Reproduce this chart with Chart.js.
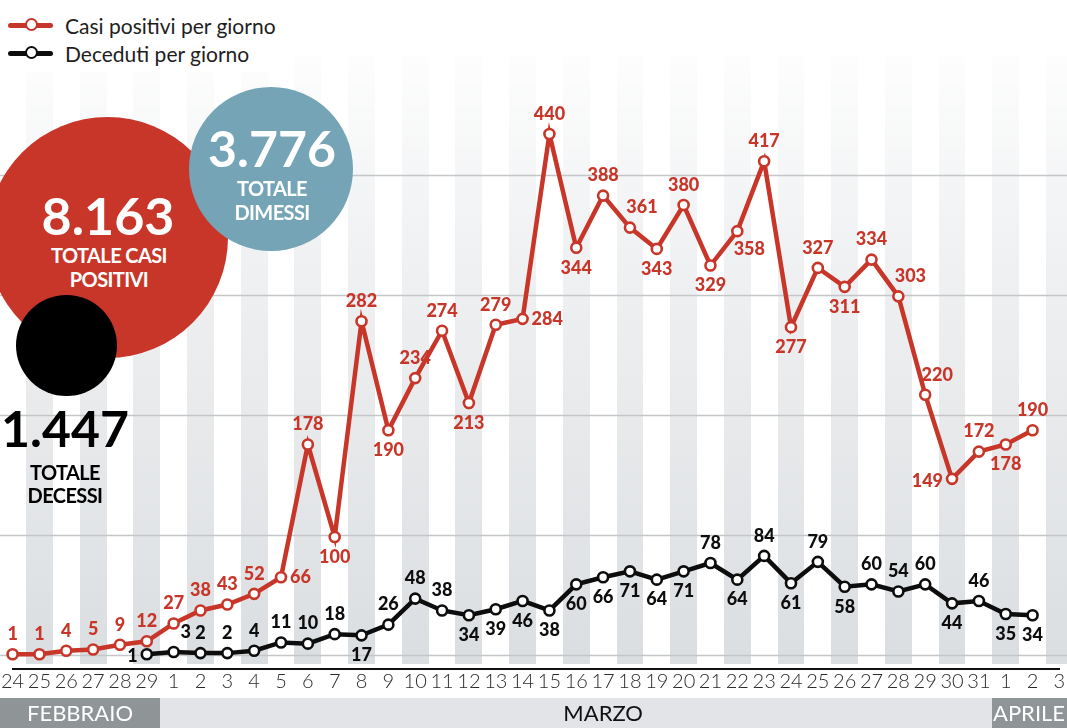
<!DOCTYPE html>
<html lang="it">
<head>
<meta charset="utf-8">
<script src="https://cdn.jsdelivr.net/npm/chart.js@4.4.1/dist/chart.umd.min.js"></script>
<style>
    html, body { margin: 0; padding: 0; background: #fff; }
    #contenitore { position: relative; width: 1067px; height: 728px; overflow: hidden; font-family: 'Lato', sans-serif; }
    #grafico { position: absolute; left: 0; top: 0; }

    .legenda { position: absolute; left: 0; top: 0; width: 283px; height: 72px; background: #fff; }
    .voce { position: absolute; left: 8px; height: 24px; display: flex; align-items: center; font-size: 21px; color: #1e1e1e; white-space: nowrap; }
    .icona { position: relative; width: 45px; height: 5px; border-radius: 3px; margin-right: 12px; }
    .icona::after { content: ''; position: absolute; left: 17px; top: -5px; width: 9px; height: 9px; border-radius: 50%; background: #fff; border: 2.5px solid; border-color: inherit; }
    .rossa { background: #c8362a; border-color: #c8362a; }
    .nera  { background: #0d0d0d; border-color: #0d0d0d; }

    .bolla { position: absolute; border-radius: 50%; }
    .num, .lab { position: absolute; transform: translateX(-50%); white-space: nowrap; line-height: 1; font-weight: 700; color: #fff; }
    .lab { font-size: 20px; letter-spacing: -0.6px; }
</style>
</head>
<body>
<div id="contenitore">
    <canvas id="grafico" width="1067" height="728"></canvas>

    <div class="legenda">
        <div class="voce" style="top:13px"><span class="icona rossa"></span>Casi positivi per giorno</div>
        <div class="voce" style="top:41px"><span class="icona nera"></span>Deceduti per giorno</div>
    </div>

    <div class="bolla" style="left:-13px; top:117px; width:241px; height:241px; background:#c8362a"></div>
    <div class="bolla" style="left:189px; top:87px; width:164px; height:164px; background:#74a4b6"></div>
    <div class="bolla" style="left:16px; top:295px; width:101px; height:101px; background:#000"></div>

    <div class="num" style="left:108px; top:189px; font-size:52px">8.163</div>
    <div class="lab" style="left:109px; top:245px">TOTALE CASI</div>
    <div class="lab" style="left:109px; top:269px">POSITIVI</div>

    <div class="num" style="left:272px; top:123px; font-size:50px">3.776</div>
    <div class="lab" style="left:272px; top:178px">TOTALE</div>
    <div class="lab" style="left:272px; top:202px">DIMESSI</div>

    <div class="num" style="left:65px; top:403px; font-size:50px; color:#000">1.447</div>
    <div class="lab" style="left:65px; top:462px; color:#000">TOTALE</div>
    <div class="lab" style="left:65px; top:485px; color:#000">DECESSI</div>
</div>

<script>
// giorni dal 24 febbraio al 3 aprile
const giorni = ['24', '25', '26', '27', '28', '29',
    '1', '2', '3', '4', '5', '6', '7', '8', '9', '10', '11', '12', '13', '14', '15', '16',
    '17', '18', '19', '20', '21', '22', '23', '24', '25', '26', '27', '28', '29', '30', '31',
    '1', '2', '3'];

const casiPositivi = [1, 1, 4, 5, 9, 12,
    27, 38, 43, 52, 66, 178, 100, 282, 190, 234, 274, 213, 279, 284, 440, 344,
    388, 361, 343, 380, 329, 358, 417, 277, 327, 311, 334, 303, 220, 149, 172,
    178, 190, null];

const deceduti = [null, null, null, null, null, 1,
    3, 2, 2, 4, 11, 10, 18, 17, 26, 48, 38, 34, 39, 46, 38, 60,
    66, 71, 64, 71, 78, 64, 84, 61, 79, 58, 60, 54, 60, 44, 46,
    35, 34, null];

const lineeGriglia = [0, 101.4, 202.8, 304.2, 405.6];

const mesi = ['FEBBRAIO', 'MARZO', 'APRILE'];

// dove va l'etichetta di ogni punto: t sopra, b sotto, r destra, l sinistra
const posRossi = ['t', 't', 't', 't', 't', 't', 't', 't', 't', 't', 'r', 't', 'b', 't', 'b', 't', 't', 'b', 't', 'r',
    't', 'b', 't', 'tr', 'b', 't', 'b', 'br', 't', 'b', 't', 'b', 't', 'tr', 'tr', 'l', 't', 'b', 't', null];
const posNeri = [null, null, null, null, null, 'l', 'tr', 't', 't', 't', 't', 't', 't', 'b', 't', 't', 't', 'b', 'b', 'b',
    'b', 'b', 'b', 'b', 'b', 'b', 't', 'b', 't', 'b', 't', 'b', 't', 't', 't', 'b', 't', 'b', 'b', null];

const ROSSO = '#c8362a';
const NERO  = '#0d0d0d';

const sfondo = {
    id: 'sfondo',
    beforeDraw(chart) {
        const { ctx, chartArea, scales: { x, y } } = chart;
        const passo = x.getPixelForValue(1) - x.getPixelForValue(0);
        const alto  = chartArea.top;
        const basso = chartArea.bottom - 5;

        ctx.save();
        const grad = ctx.createLinearGradient(0, alto, 0, basso);
        grad.addColorStop(0, 'rgba(219,222,225,0.05)');
        grad.addColorStop(0.3, 'rgba(219,222,225,0.4)');
        grad.addColorStop(1, 'rgba(219,222,225,1)');
        ctx.fillStyle = grad;
        giorni.forEach((g, i) => {
            if (i % 2 === 0) return;
            const sx = Math.round(x.getPixelForValue(i) - passo / 2);
            const dx = Math.round(x.getPixelForValue(i) + passo / 2);
            ctx.fillRect(sx, alto, dx - sx, basso - alto);
        });

        ctx.strokeStyle = '#c4c6c8';
        ctx.lineWidth = 1.3;
        lineeGriglia.forEach(v => {
            const py = Math.round(y.getPixelForValue(v)) + 0.5;
            ctx.beginPath();
            ctx.moveTo(0, py);
            ctx.lineTo(chart.width, py);
            ctx.stroke();
        });

        // fascia dei mesi
        const fineFeb = Math.round((x.getPixelForValue(5) + x.getPixelForValue(6)) / 2);
        const inizioApr = Math.round((x.getPixelForValue(36) + x.getPixelForValue(37)) / 2);
        const yBanda = 698;
        ctx.fillStyle = '#8f9497';
        ctx.fillRect(0, yBanda, fineFeb, chart.height - yBanda);
        ctx.fillRect(inizioApr, yBanda, chart.width - inizioApr, chart.height - yBanda);
        ctx.fillStyle = '#e2e4e7';
        ctx.fillRect(fineFeb, yBanda, inizioApr - fineFeb, chart.height - yBanda);

        ctx.font = '400 22px Lato';
        ctx.textBaseline = 'middle';
        ctx.textAlign = 'center';
        ctx.fillStyle = '#fff';
        ctx.fillText(mesi[0], fineFeb / 2, 714);
        ctx.fillStyle = '#111';
        ctx.fillText(mesi[1], x.getPixelForValue(22), 714);
        ctx.textAlign = 'left';
        ctx.fillStyle = '#fff';
        ctx.fillText(mesi[2], inizioApr + 1, 714);
        ctx.restore();
    }
};

const etichette = {
    id: 'etichette',
    afterDatasetsDraw(chart) {
        const { ctx } = chart;
        const posizioni = [posRossi, posNeri];
        ctx.save();
        ctx.font = '900 18px Lato';
        ctx.textBaseline = 'middle';
        chart.data.datasets.forEach((ds, di) => {
            const meta = chart.getDatasetMeta(di);
            ctx.fillStyle = ds.borderColor;
            meta.data.forEach((pt, i) => {
                const v = ds.data[i];
                const pos = posizioni[di][i];
                if (v == null || !pos) return;
                let dx = 0, dy = 0, al = 'center';
                if (pos === 't')  { dy = -20; }
                if (pos === 'b')  { dy = 20; }
                if (pos === 'r')  { dx = 9; al = 'left'; }
                if (pos === 'l')  { dx = -9; dy = 2; al = 'right'; }
                if (pos === 'tr') { dx = 12; dy = -20; }
                if (pos === 'br') { dx = 12; dy = 18; }
                ctx.textAlign = al;
                ctx.fillText(String(v), pt.x + dx, pt.y + dy);
            });
        });
        ctx.restore();
    }
};

const serie = (dati, colore) => ({
    data: dati,
    borderColor: colore,
    backgroundColor: '#fff',
    borderWidth: 4.5,
    tension: 0,
    pointRadius: 5,
    pointBorderWidth: 2.6,
    pointBackgroundColor: '#fff',
    pointBorderColor: colore,
    clip: false
});

new Chart(document.getElementById('grafico').getContext('2d'), {
    type: 'line',
    data: {
        labels: giorni,
        datasets: [serie(casiPositivi, ROSSO), serie(deceduti, NERO)]
    },
    options: {
        responsive: false,
        devicePixelRatio: 1,
        animation: false,
        events: [],
        layout: { padding: { top: 55, left: 9, right: 4, bottom: 33 } },
        scales: {
            x: {
                offset: false,
                grid: { display: false, drawTicks: false },
                border: { display: true, color: '#111', width: 2 },
                ticks: { color: '#2b2b2b', font: { family: 'Lato', size: 20, weight: '300' }, padding: 1, maxRotation: 0, autoSkip: false }
            },
            y: {
                display: false,
                min: -11.4,
                max: 506.6
            }
        },
        plugins: { legend: { display: false }, tooltip: { enabled: false } }
    },
    plugins: [sfondo, etichette]
});
</script>
</body>
</html>
